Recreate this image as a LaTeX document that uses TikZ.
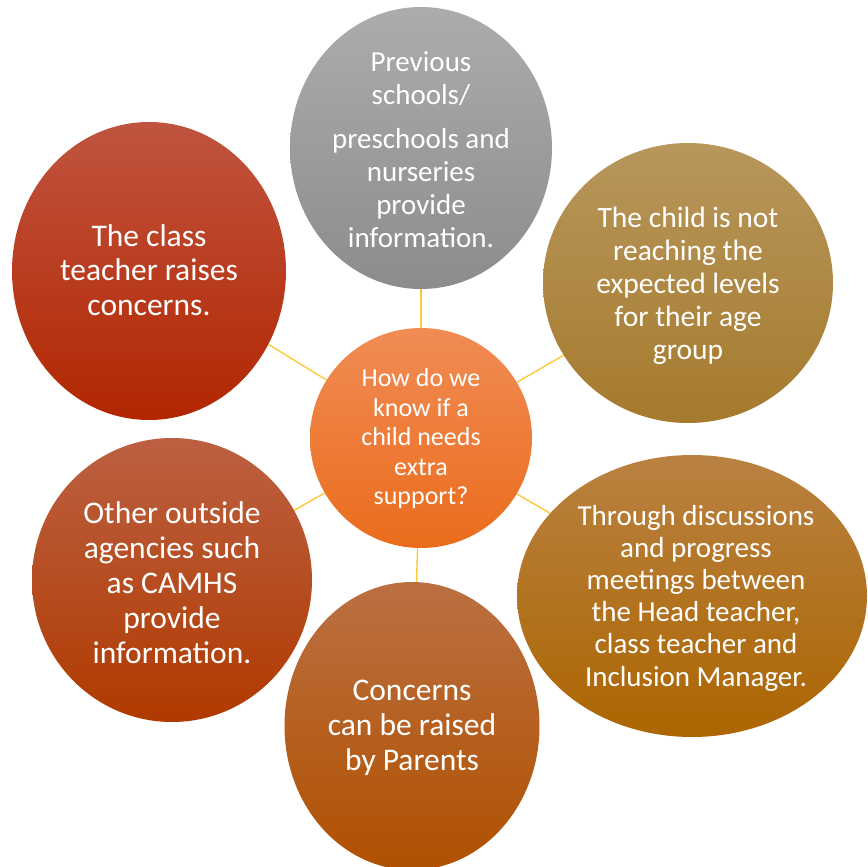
\documentclass[tikz,border=0pt]{standalone}
\usepackage{fontspec}
\setmainfont{Carlito}
\usetikzlibrary{shapes.geometric}
\definecolor{linkc}{HTML}{FFC83A}
\tikzset{
  bubble/.style={ellipse, draw=none, inner sep=0pt, minimum width=#1},
  txt/.style={text=white, align=center, inner sep=0pt},
  conn/.style={draw=linkc, line width=1.4pt},
}
\begin{document}
\begin{tikzpicture}[x=1pt,y=-1pt]
\useasboundingbox (0,0) rectangle (868,867);
% outer bubbles
\node[bubble=262pt, minimum height=282pt, top color=gray!65, bottom color=gray!90!black!82] (g1) at (421,148) {};
\node[bubble=290pt, minimum height=280pt, top color={rgb,255:red,184;green,151;blue,92}, bottom color={rgb,255:red,165;green,122;blue,45}] (g2) at (688,283) {};
\node[bubble=350pt, minimum height=282pt, top color={rgb,255:red,185;green,130;blue,66}, bottom color={rgb,255:red,172;green,101;blue,0}] (g3) at (692,596) {};
\node[bubble=255pt, minimum height=288pt, top color={rgb,255:red,187;green,112;blue,66}, bottom color={rgb,255:red,176;green,80;blue,0}] (g4) at (412,726) {};
\node[bubble=280pt, minimum height=284pt, top color={rgb,255:red,188;green,96;blue,66}, bottom color={rgb,255:red,176;green,58;blue,0}] (g5) at (172,580) {};
\node[bubble=274pt, minimum height=298pt, top color={rgb,255:red,192;green,84;blue,64}, bottom color={rgb,255:red,178;green,38;blue,0}] (g6) at (149,271) {};
% centre
\node[bubble=222pt, minimum height=220pt, top color={rgb,255:red,241;green,140;blue,85}, bottom color={rgb,255:red,234;green,108;blue,28}] (c) at (421,438) {};
% connectors
\foreach \n in {g1,g2,g3,g4,g5,g6} \draw[conn] (c) -- (\n);
% texts
\node[txt, font=\fontsize{29}{33}\selectfont] (t1) at (421,150) {Previous\\schools/\\[11pt]preschools and\\nurseries\\provide\\information.};
\node[txt, font=\fontsize{26}{29.5}\selectfont] (t0) at (421,439) {How do we\\know if a\\child needs\\extra\\support?};
\node[txt, font=\fontsize{29.5}{33}\selectfont] (t2) at (688,286) {The child is not\\reaching the\\expected levels\\for their age\\group};
\node[txt, font=\fontsize{29}{32.2}\selectfont] (t3) at (696,598) {Through discussions\\and progress\\meetings between\\the Head teacher,\\class teacher and\\Inclusion Manager.};
\node[txt, font=\fontsize{31.5}{35}\selectfont] (t4) at (412,728) {Concerns\\can be raised\\by Parents};
\node[txt, font=\fontsize{31.5}{35}\selectfont] (t5) at (172,583) {Other outside\\agencies such\\as CAMHS\\provide\\information.};
\node[txt, font=\fontsize{31.5}{34.5}\selectfont] (t6) at (149,270) {The class\\teacher raises\\concerns.};
\end{tikzpicture}
\end{document}
